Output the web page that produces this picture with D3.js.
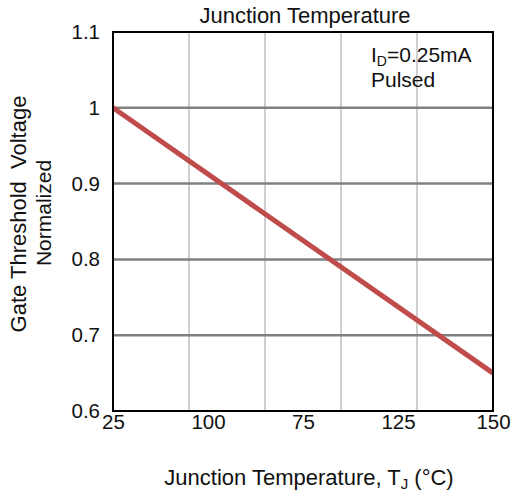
<!DOCTYPE html>
<html lang="en">
<head>
<meta charset="utf-8">
<title>Gate Threshold Voltage vs Junction Temperature</title>
<script src="https://cdn.jsdelivr.net/npm/d3@7"></script>
<style>
  body { margin: 0; background: #fff; }
  text { font-family: "Liberation Sans", Arial, sans-serif; fill: #111; }
  .tick text { font-size: 20.5px; }
</style>
</head>
<body>
<div id="chart"></div>
<script>
// data
var xTickLabels = ["25", "100", "75", "125", "150"];
var xGridValues = [50, 75, 100, 125];
var yTickValues = [0.6, 0.7, 0.8, 0.9, 1.0, 1.1];
var yGridValues = [0.7, 0.8, 0.9, 1.0];
var tempC = [25, 150];
var vthNorm = [1.0, 0.65];

var w = 515, h = 495;
var m = { top: 32, right: 22, bottom: 84, left: 113 };

var svg = d3.select("#chart").append("svg")
  .attr("width", w).attr("height", h);

var x = d3.scaleLinear().domain([25, 150]).range([m.left, w - m.right]);
var xLab = d3.scalePoint().domain(xTickLabels).range([m.left, w - m.right]);
var y = d3.scaleLinear().domain([0.6, 1.1]).range([h - m.bottom, m.top]);

// grid
svg.append("g").selectAll("line").data(xGridValues).enter().append("line")
  .attr("x1", d => x(d)).attr("x2", d => x(d))
  .attr("y1", m.top).attr("y2", h - m.bottom)
  .attr("stroke", "#cfcfcf").attr("stroke-width", 2);

svg.append("g").selectAll("line").data(yGridValues).enter().append("line")
  .attr("x1", m.left).attr("x2", w - m.right)
  .attr("y1", d => y(d)).attr("y2", d => y(d))
  .attr("stroke", "#808080").attr("stroke-width", 2.5);

// curve
var pts = tempC.map((t, i) => [t, vthNorm[i]]);
svg.append("path")
  .datum(pts)
  .attr("fill", "none")
  .attr("stroke", "#bf4b4b")
  .attr("stroke-width", 5)
  .attr("d", d3.line().x(d => x(d[0])).y(d => y(d[1])));

// frame
svg.append("rect")
  .attr("x", m.left).attr("y", m.top)
  .attr("width", w - m.left - m.right).attr("height", h - m.top - m.bottom)
  .attr("fill", "none").attr("stroke", "#000").attr("stroke-width", 2);

// axes (labels only)
var xAxis = svg.append("g")
  .attr("transform", "translate(0," + (h - m.bottom) + ")")
  .call(d3.axisBottom(xLab).tickSize(0).tickPadding(3));
xAxis.select(".domain").remove();
xAxis.selectAll("text").attr("dy", "0.71em").attr("fill", "#111");

var yAxis = svg.append("g")
  .attr("transform", "translate(" + m.left + ",0)")
  .call(d3.axisLeft(y).tickValues(yTickValues).tickSize(0).tickPadding(13)
    .tickFormat(d => d === 1 ? "1" : d3.format(".1f")(d)));
yAxis.select(".domain").remove();
yAxis.selectAll("text").attr("fill", "#111");

// titles
svg.append("text")
  .attr("x", 305).attr("y", 23)
  .attr("text-anchor", "middle")
  .style("font-size", "22px")
  .text("Junction Temperature");

var xl = svg.append("text")
  .attr("x", 309).attr("y", 485)
  .attr("text-anchor", "middle")
  .style("font-size", "22px")
  .text("Junction Temperature, T");
xl.append("tspan").attr("dy", 4).style("font-size", "15px").text("J");
xl.append("tspan").attr("dy", -4).text(" (°C)");

svg.append("text")
  .attr("transform", "translate(26,214) rotate(-90)")
  .attr("text-anchor", "middle")
  .style("font-size", "22px")
  .style("white-space", "pre")
  .text("Gate Threshold  Voltage");

svg.append("text")
  .attr("transform", "translate(51,213) rotate(-90)")
  .attr("text-anchor", "middle")
  .style("font-size", "21px")
  .text("Normalized");

// annotation
var ann = svg.append("text")
  .attr("x", 371).attr("y", 62)
  .style("font-size", "21px")
  .text("I");
ann.append("tspan").attr("dy", 4).style("font-size", "14px").text("D");
ann.append("tspan").attr("dy", -4).text("=0.25mA");

svg.append("text")
  .attr("x", 371).attr("y", 87)
  .style("font-size", "21px")
  .text("Pulsed");
</script>
</body>
</html>
